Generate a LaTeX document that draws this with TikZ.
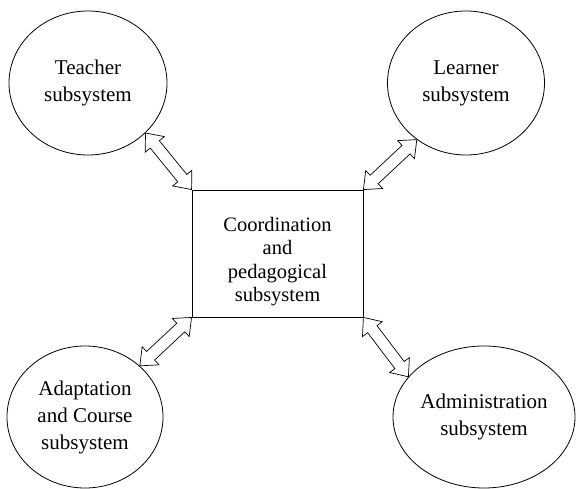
\documentclass[tikz,border=0pt]{standalone}
\usepackage{fontspec}
\setmainfont{Liberation Serif}
\usetikzlibrary{shapes.geometric,shapes.arrows,calc}
\begin{document}
\begin{tikzpicture}[x=1pt,y=1pt,
  sub/.style={draw, ellipse, line width=0.8pt, inner sep=0pt, align=center, font=\fontsize{21}{27}\selectfont},
  link/.style={draw, fill=white, double arrow, line width=0.7pt, inner xsep=0pt, inner ysep=5.5pt, double arrow head extend=6.5pt, double arrow tip angle=80}]
\useasboundingbox (0,0) rectangle (576,489);
\node[sub, minimum width=158pt, minimum height=144pt] (teacher) at (88,406) {Teacher\\subsystem};
\node[sub, minimum width=157pt, minimum height=144pt] (learner) at (466,406) {Learner\\subsystem};
\node[sub, minimum width=156pt, minimum height=142pt] (adapt) at (85,72) {Adaptation\\and Course\\subsystem};
\node[sub, minimum width=182pt, minimum height=142pt] (admin) at (484,72) {Administration\\subsystem};
\node[draw, line width=0.8pt, minimum width=171pt, minimum height=127pt] (coord) at (277.5,235.5) {};
\node[align=center, font=\fontsize{20.5}{23.5}\selectfont, yshift=-8pt] (coordtext) at (coord.center) {Coordination\\and\\pedagogical\\subsystem};
% links to the centre box
\path let \p1=($(coord.north west)-(teacher.-41)$), \n1={veclen(\x1,\y1)}, \n2={atan2(\y1,\x1)} in
  node[link, rotate=\n2, minimum height=\n1] at ($(teacher.-41)!0.5!(coord.north west)$) {};
\path let \p1=($(coord.north east)-(learner.-131)$), \n1={veclen(\x1,\y1)}, \n2={atan2(\y1,\x1)} in
  node[link, rotate=\n2, minimum height=\n1] at ($(learner.-131)!0.5!(coord.north east)$) {};
\path let \p1=($(coord.south west)-(adapt.43)$), \n1={veclen(\x1,\y1)}, \n2={atan2(\y1,\x1)} in
  node[link, rotate=\n2, minimum height=\n1] at ($(adapt.43)!0.5!(coord.south west)$) {};
\path let \p1=($(coord.south east)-(admin.152)$), \n1={veclen(\x1,\y1)}, \n2={atan2(\y1,\x1)} in
  node[link, rotate=\n2, minimum height=\n1] at ($(admin.152)!0.5!(coord.south east)$) {};
\end{tikzpicture}
\end{document}
